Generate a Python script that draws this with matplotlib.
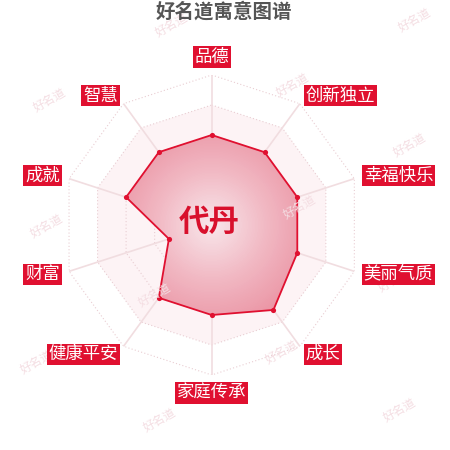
import numpy as np
import matplotlib
matplotlib.use("Agg")
import matplotlib.pyplot as plt
from matplotlib.colors import LinearSegmentedColormap

plt.rcParams['font.family'] = ['Noto Sans CJK SC', 'DejaVu Sans']

# Daten
labels = ["品德", "创新独立", "幸福快乐", "美丽气质", "成长",
          "家庭传承", "健康平安", "财富", "成就", "智慧"]
values = [60, 60, 60, 60, 70, 60, 60, 30, 60, 60]
name = "代丹"
title = "好名道寓意图谱"
rmax = 100
levels = [20, 40, 60, 80, 100]

red = "#e01030"
W, H = 450, 450

fig = plt.figure(figsize=(4.5, 4.5), dpi=100)
fig.patch.set_facecolor("white")

# Mittelpunkt (211.7, 225) px, Radius 150 px
cx, cy, R = 211.7 / W, 1 - 225 / H, 150 / W
ax = fig.add_axes([cx - R, cy - R, 2 * R, 2 * R], projection="polar")
ax.set_theta_zero_location("N")
ax.set_theta_direction(-1)
ax.set_ylim(0, rmax)
ax.set_axis_off()

n = len(labels)
ang = np.linspace(0, 2 * np.pi, n, endpoint=False)
ang_c = np.append(ang, ang[0])

# Hintergrund
ax.fill(ang, [80] * n, color="#fdf3f5", lw=0, zorder=0)
for lv in levels:
    ax.plot(ang_c, [lv] * (n + 1), ls=(0, (1, 2)), color="#e9cdd2", lw=0.8, zorder=1)
for a in ang:
    ax.plot([a, a], [0, rmax], color="#f1dde0", lw=1.2, zorder=1)

# Radarflaeche mit Verlauf
poly = ax.fill(ang, values, color="none", lw=0, zorder=2)[0]
cmap = LinearSegmentedColormap.from_list("rosa", ["#f8e6ea", "#f1b8c3", "#ea92a2"])
tt, rr = np.meshgrid(np.linspace(0, 2 * np.pi, 361), np.linspace(0, rmax, 101))
mesh = ax.pcolormesh(tt, rr, rr[:-1, :-1], cmap=cmap, vmin=0, vmax=72,
                     shading="flat", zorder=2)
mesh.set_clip_path(poly)
ax.plot(ang_c, values + values[:1], color=red, lw=1.3, zorder=3)
ax.scatter(ang, values, s=14, color=red, zorder=4, lw=0)

# Wasserzeichen (unter den Beschriftungen)
marks = [(172, 25), (415, 20), (50, 100), (293, 85), (410, 145), (47, 226),
         (300, 207), (395, 280), (155, 295), (37, 362), (282, 352), (160, 420), (400, 410)]
for mx, my in marks:
    ax.text(mx / W, 1 - my / H, "好名道", ha="center", va="center", rotation=30,
            fontsize=8.5, color="#f4dde2", transform=fig.transFigure, zorder=4.5)

# Beschriftungen
for a, lab in zip(ang, labels):
    s = np.sin(a)
    if abs(s) < 0.01:
        ha, r = "center", 112
    elif s > 0:
        ha, r = "left", 106.5
    else:
        ha, r = "right", 106.5
    ax.text(a, r, lab, ha=ha, va="center", color="white", fontsize=12.5,
            bbox=dict(boxstyle="square,pad=0.1", fc=red, ec="none"), zorder=5)

fig.text(224 / W, 1 - 12 / H, title, ha="center", va="center",
         fontsize=14, fontweight="bold", color="#555555")
fig.text(209.5 / W, 1 - 222 / H, name, ha="center", va="center",
         fontsize=22, fontweight="bold", color="#d8102c", zorder=10)

fig.savefig("out.png", dpi=100)
